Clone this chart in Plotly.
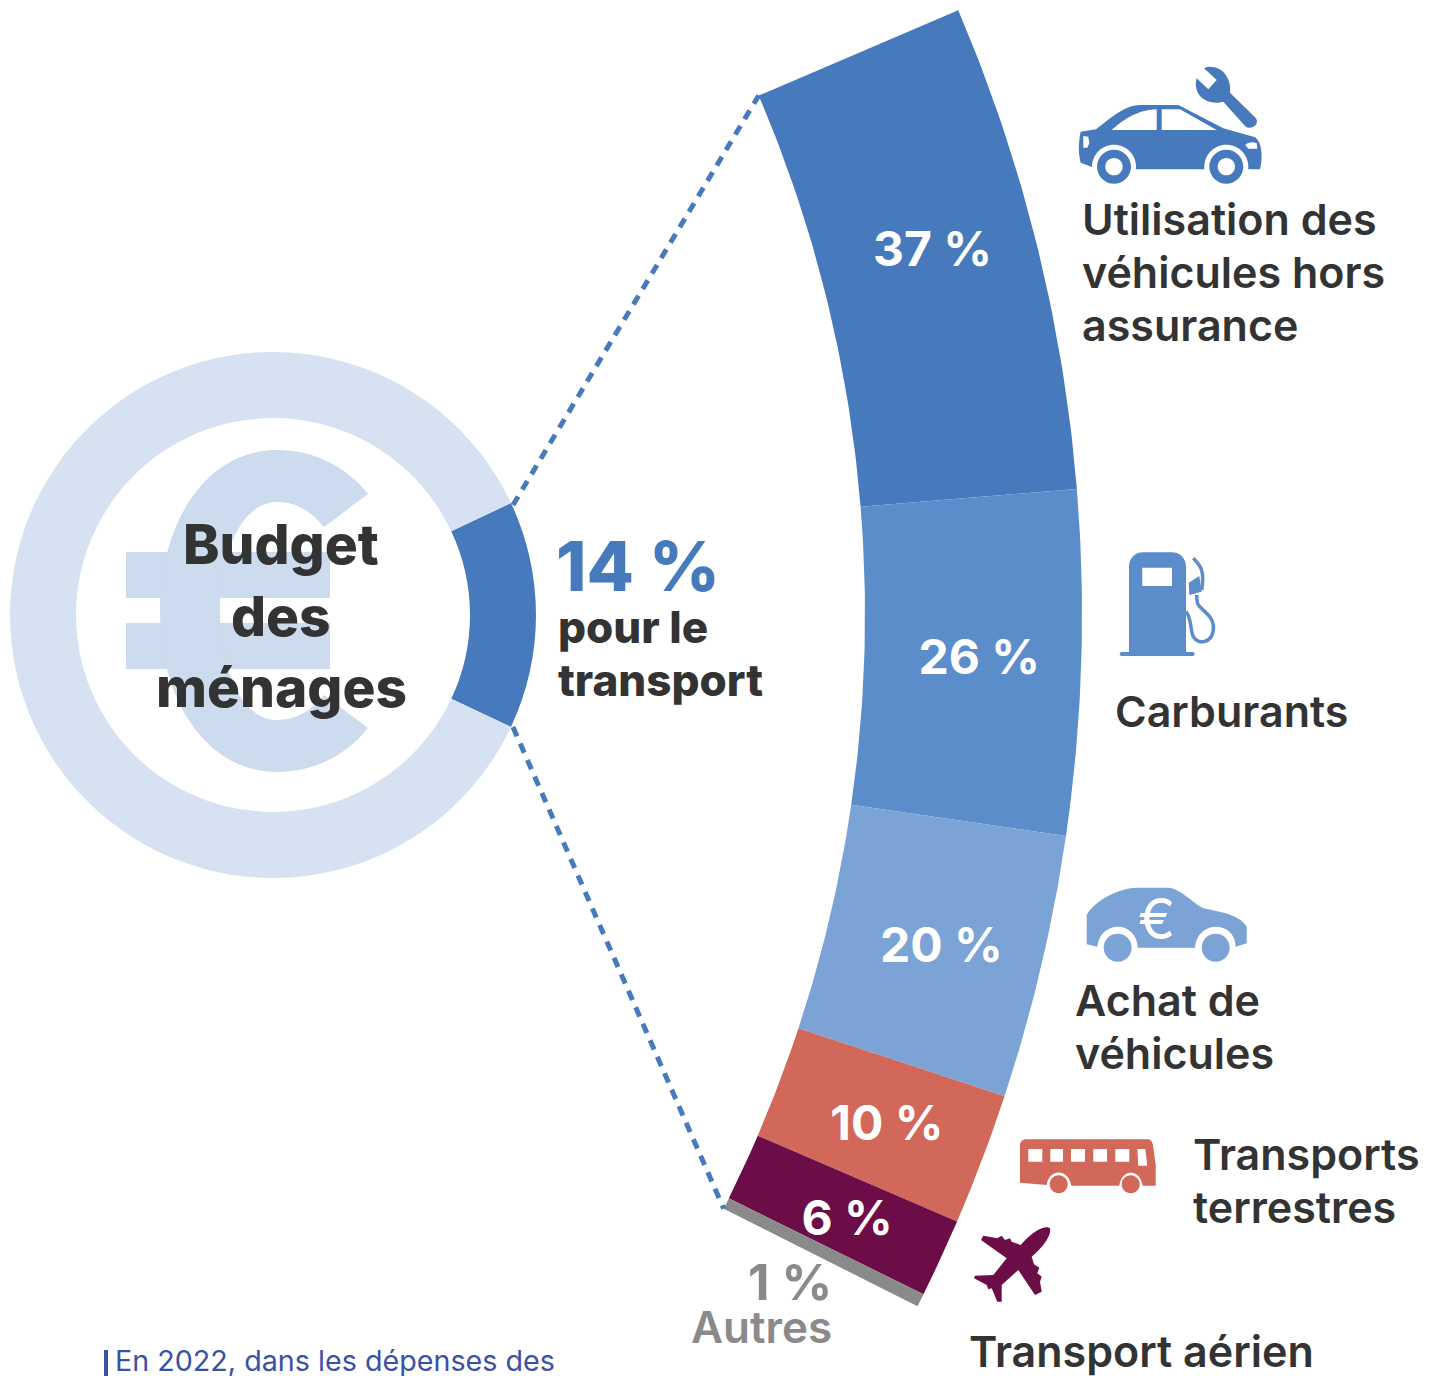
"""Budget des ménages: part du transport et détail par poste."""
import re
import numpy as np
import plotly.graph_objects as go

# Data
budget_labels = ["Transport", "Autres dépenses"]
budget_values = [14, 86]

postes = ["Utilisation", "Carburants", "Achat", "Terrestres", "Aérien", "Autres"]
parts = [37, 26, 20, 10, 6, 1]
part_labels = ["37 %", "26 %", "20 %", "10 %", "6 %", ""]
part_colors = ["#467abd", "#5c8dcb", "#7ba3d6", "#d2685a", "#6d0d47", "#8a8a8a"]
label_nudge = [0.85, 0.1, -0.05, 0, -0.1, 0]  # degrees, labels are not quite mid-segment

# (text, left x, centre y) of the label lines
labels = [
    ("Utilisation des", 1081, 219), ("véhicules hors", 1081, 272), ("assurance", 1081, 325),
    ("Carburants", 1114, 711),
    ("Achat de", 1074, 1000), ("véhicules", 1074, 1053),
    ("Transports", 1192, 1154), ("terrestres", 1192, 1207),
    ("Transport aérien", 968, 1351),
]

W, H = 1441, 1376
PAD = 8  # default body margin of the written page
FONT = "Inter"
DARK = "#333333"
BLUE = "#467abd"

# big arc geometry (the centre lies off the page, on the left)
CX, CY = -455, 614.5
R_IN, R_OUT = 1320, 1537
A_TOP, A_SPAN = 23.15, 49.9


def angle(share):
    return np.radians(A_TOP - A_SPAN * share / sum(parts))


def polar(r, a):
    return CX + r * np.cos(a), CY - r * np.sin(a)


fig = go.Figure()

# donut on the left
fig.add_trace(go.Pie(
    labels=budget_labels, values=budget_values, hole=0.749, sort=False,
    direction="clockwise", rotation=64.8, textinfo="none", hoverinfo="skip",
    marker=dict(colors=[BLUE, "#d6e1f1"], line=dict(width=0)),
    domain=dict(x=[(10 - PAD) / (W - PAD), (536 - PAD) / (W - PAD)],
                y=[1 - (878 - PAD) / (H - PAD), 1 - (352 - PAD) / (H - PAD)]),
    showlegend=False,
))

# arc segments
cum = np.concatenate([[0], np.cumsum(parts)])
for i, poste in enumerate(postes):
    a = np.linspace(angle(cum[i]), angle(cum[i + 1]), 40)
    xo, yo = polar(R_OUT, a)
    xi, yi = polar(R_IN, a[::-1])
    fig.add_trace(go.Scatter(
        x=np.concatenate([xo, xi]), y=np.concatenate([yo, yi]), name=poste,
        mode="lines", fill="toself", fillcolor=part_colors[i],
        line=dict(width=0), hoverinfo="skip", showlegend=False,
    ))

# percentages on the arc
mid = angle((cum[:-1] + cum[1:]) / 2) + np.radians(label_nudge)
lx, ly = polar(1435, mid)
fig.add_trace(go.Scatter(
    x=lx, y=ly + 5, mode="text", text=part_labels, textposition="middle center",
    textfont=dict(family=FONT, size=48, color="white", weight=700),
    hoverinfo="skip", showlegend=False,
))

# dotted links between donut and arc
top_x, top_y = polar(R_IN, angle(0))
bot_x, bot_y = polar(R_IN, angle(sum(parts)))
for x1, y1, y0 in [(top_x, top_y, 505), (bot_x, bot_y, 727)]:
    fig.add_trace(go.Scatter(
        x=[513, x1], y=[y0, y1], mode="lines",
        line=dict(color=BLUE, width=5, dash="10px,8px"),
        hoverinfo="skip", showlegend=False,
    ))


def scaled(d, ox, oy, k=1 / 3):
    # icon paths were traced on 3x crops, bring them back to page pixels
    nums = iter(range(10 ** 6))

    def repl(m):
        v = float(m.group())
        return f"{(ox + v * k) if next(nums) % 2 == 0 else (oy + v * k):.1f}"

    return re.sub(r"-?\d+\.?\d*", repl, d)


def circle(cx, cy, r):
    c = 0.5523 * r
    return (f"M{cx - r},{cy} C{cx - r},{cy - c} {cx - c},{cy - r} {cx},{cy - r} "
            f"C{cx + c},{cy - r} {cx + r},{cy - c} {cx + r},{cy} "
            f"C{cx + r},{cy + c} {cx + c},{cy + r} {cx},{cy + r} "
            f"C{cx - c},{cy + r} {cx - r},{cy + c} {cx - r},{cy} Z")


def rect(x0, y0, x1, y1):
    return f"M{x0},{y0} L{x1},{y0} L{x1},{y1} L{x0},{y1} Z"


def add_path(d, fill="rgba(0,0,0,0)", line=None, width=0):
    fig.add_shape(type="path", path=d, xref="x", yref="y", fillcolor=fill,
                  line=dict(color=line or fill, width=width), layer="above")


# euro sign behind the title
EURO = "#ccdbed"
add_path(rect(126, 552, 330, 598), EURO)
add_path(rect(126, 623, 330, 669), EURO)
add_path("M368,494 C345,465 312,450 277,450 C208,450 160,520 160,611 C160,702 208,772 277,772 "
         "C312,772 345,757 368,728 L324,695 C310,712 295,720 277,720 C243,720 220,672 220,611 "
         "C220,550 243,502 277,502 C295,502 310,510 324,527 Z", EURO)

# car + wrench
c = part_colors[0]
ox, oy = 1060, 50
add_path(scaled("M108,238 C140,215 190,165 240,165 L355,165 L490,235 L585,262 C605,275 610,320 600,358 "
                "L228,358 L98,352 L62,338 C55,310 55,280 62,245 Z "
                "M155,240 C185,215 225,180 290,178 L290,240 Z M305,178 L360,178 L470,240 L305,240 Z "
                "M70,258 L85,260 L88,280 L82,293 L70,293 Z M556,285 C565,275 580,275 590,280 "
                "L592,296 L565,296 Z", ox, oy), c)
for wx in (162, 499):
    add_path(scaled(circle(wx, 350, 66), ox, oy), "white")
    add_path(scaled(circle(wx, 350, 51) + " " + circle(wx, 350, 26), ox, oy), c)
add_path(scaled("M432,55 L470,90 L445,118 L410,85 C400,120 420,158 470,158 C478,158 484,156 490,155 "
                "L555,228 C570,243 600,225 588,205 L510,128 C515,95 495,50 450,50 C444,50 438,51 432,55 Z",
                ox, oy), c)

# fuel pump
c = part_colors[1]
ox, oy = 1100, 540
add_path(scaled("M87,340 L87,80 C87,55 105,37 130,37 L215,37 C240,37 258,55 258,80 L258,340 Z "
                "M127,83 L216,83 L216,138 L127,138 Z", ox, oy), c)
add_path(scaled("M65,336 L278,336 C286,336 286,348 278,348 L65,348 C57,348 57,336 65,336 Z", ox, oy), c)
add_path(scaled("M266,128 L298,108 L305,155 L268,165 Z", ox, oy), c)
add_path(scaled("M258,215 C275,235 270,270 280,290 C295,315 335,310 340,270 C345,230 310,215 295,195 "
                "C290,185 290,175 290,165", ox, oy), line=c, width=3.5)
add_path(scaled("M280,55 C300,75 315,90 305,150", ox, oy), line=c, width=3.5)

# car with euro
c = part_colors[2]
ox, oy = 1070, 875
add_path(scaled("M50,120 C75,75 150,38 200,38 L295,38 C330,40 370,85 400,100 C450,110 510,120 530,155 "
                "L530,205 L497,215 C495,135 380,135 375,218 L203,218 C200,135 90,135 82,215 L50,208 Z",
                ox, oy), c)
add_path(scaled(circle(143, 218, 42) + " " + circle(437, 218, 42), ox, oy), c)

# bus
c = part_colors[3]
ox, oy = 960, 1125
add_path(scaled("M180,60 C180,50 188,43 198,43 L565,43 C572,43 577,50 579,60 L587,120 L587,182 L548,182 "
                "C540,130 485,130 478,182 L334,182 C325,130 268,130 260,180 L180,173 Z "
                + rect(205, 72, 247, 110) + " " + rect(271, 72, 309, 110) + " " + rect(333, 72, 375, 110)
                + " " + rect(400, 72, 441, 110) + " " + rect(466, 72, 508, 110)
                + " M532,72 L556,72 L562,122 L535,122 Z", ox, oy), c)
add_path(scaled(circle(296, 178, 27) + " " + circle(512, 178, 27), ox, oy), c)

# plane
c = part_colors[4]
add_path(scaled("M270,310 C260,300 225,310 182,360 L155,350 L150,340 L135,345 L125,332 L112,340 L70,332 "
                "L63,345 L140,400 L100,450 L45,452 L42,460 L80,480 L85,493 L95,490 L112,530 L125,530 "
                "L125,480 L175,435 L225,510 L245,500 L240,470 L245,455 L232,445 L238,428 L222,418 "
                "L215,395 C250,365 275,330 270,310 Z", ox, oy), c)

# source marker at the bottom
add_path(rect(104, 1350, 108, 1376), "#3b51a3")


def text(s, x, y, size, color=DARK, weight=700, anchor="left"):
    fig.add_annotation(x=x, y=y, text=s, showarrow=False, xanchor=anchor, yanchor="middle",
                       xref="x", yref="y", borderpad=0,
                       font=dict(family=FONT, size=size, color=color, weight=weight))


for s, x, y in labels:
    text(s, x, y, 43, weight=600)

for s, y in [("Budget", 544), ("des", 616), ("ménages", 687)]:
    text(s, 281, y, 55, weight=800, anchor="center")

text("14 %", 555, 566, 69, BLUE, 800)
text("pour le", 557, 627, 44, DARK, 800)
text("transport", 557, 680, 44, DARK, 800)
text("1 %", 790, 1282, 50, "#8a8a8a", 700, "center")
text("Autres", 761, 1327, 44, "#8a8a8a", 600, "center")
text("€", 1156, 919, 56, "white", 400, "center")
text("En 2022, dans les dépenses des", 114, 1360, 28.7, "#3b51a3", 400)

fig.update_layout(
    width=W - PAD, height=H - PAD,
    margin=dict(l=0, r=0, t=0, b=0),
    paper_bgcolor="white", plot_bgcolor="white",
    xaxis=dict(range=[PAD, W], visible=False, fixedrange=True),
    yaxis=dict(range=[H, PAD], visible=False, fixedrange=True),
    showlegend=False,
)

fig.write_html("out.html")
